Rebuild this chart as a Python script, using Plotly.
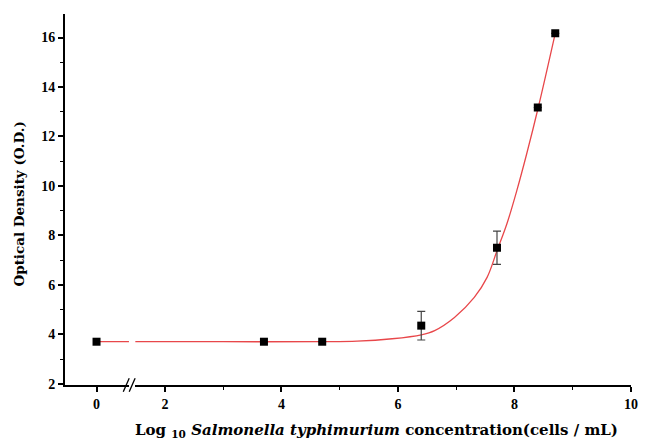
import plotly.graph_objects as go

# measured points (log10 concentration, optical density)
x_pts = [0, 3.7, 4.7, 6.4, 7.7, 8.4, 8.7]
y_pts = [3.7, 3.7, 3.7, 4.35, 7.5, 13.17, 16.17]
y_err = [None, None, None, 0.58, 0.67, None, None]

# fitted curve
x_fit = [1.49, 3.0, 4.7, 5.3, 5.9, 6.4, 6.63, 6.97, 7.31, 7.53, 7.70, 7.87, 8.04, 8.21, 8.41, 8.7]
y_fit = [3.7, 3.7, 3.7, 3.72, 3.82, 3.98, 4.15, 4.68, 5.49, 6.30, 7.38, 8.47, 9.81, 11.30, 13.19, 16.17]
x_fit_left = [0, 0.54]
y_fit_left = [3.7, 3.7]

x_ticks_left = [0]
x_ticks_right = [2, 4, 6, 8, 10]
y_ticks = [2, 4, 6, 8, 10, 12, 14, 16]

RED = "#e8474a"
FONT = "Liberation Serif"
TITLE_FONT = "DejaVu Serif"


def bold(vals):
    return ["<b>%g</b>" % v for v in vals]


fig = go.Figure()

# left (broken) panel
fig.add_trace(go.Scatter(x=x_fit_left, y=y_fit_left, mode="lines",
                         line=dict(color=RED, width=1.3), xaxis="x", yaxis="y",
                         showlegend=False, hoverinfo="skip"))
left_x = [v for v in x_pts if v < 1]
left_y = [y_pts[i] for i, v in enumerate(x_pts) if v < 1]
fig.add_trace(go.Scatter(x=left_x, y=left_y, mode="markers",
                         marker=dict(symbol="square", size=8, color="black"),
                         xaxis="x", yaxis="y", showlegend=False))

# right panel
fig.add_trace(go.Scatter(x=x_fit, y=y_fit, mode="lines", line_shape="spline",
                         line=dict(color=RED, width=1.3, smoothing=1.0),
                         xaxis="x2", yaxis="y",
                         showlegend=False, hoverinfo="skip"))
idx = [i for i, v in enumerate(x_pts) if v >= 1]
fig.add_trace(go.Scatter(x=[x_pts[i] for i in idx], y=[y_pts[i] for i in idx],
                         mode="markers",
                         marker=dict(symbol="square", size=8, color="black"),
                         error_y=dict(type="data", array=[y_err[i] for i in idx],
                                      color="#444444", thickness=1.2, width=4),
                         xaxis="x2", yaxis="y", showlegend=False))

tickfont = dict(family=FONT, size=14, color="black")
axis_common = dict(showgrid=False, zeroline=False, showline=True, linecolor="black",
                   linewidth=2, ticks="outside", ticklen=5, tickwidth=1.5,
                   tickcolor="black", tickfont=tickfont)

fig.update_layout(
    width=647, height=442,
    margin=dict(l=65, r=9, t=14, b=57),
    plot_bgcolor="white", paper_bgcolor="white",
    xaxis=dict(domain=[0, 0.113], range=[-0.525, 0.54], tickvals=x_ticks_left,
               ticktext=bold(x_ticks_left), **axis_common),
    xaxis2=dict(domain=[0.124, 1], range=[1.49, 10.0], tickvals=x_ticks_right,
                ticktext=bold(x_ticks_right),
                minor=dict(dtick=1, ticks="outside", ticklen=3, tickwidth=1.2,
                           tickcolor="black"),
                anchor="y", **axis_common),
    yaxis=dict(range=[1.95, 16.95], tickvals=y_ticks, ticktext=bold(y_ticks),
               minor=dict(dtick=1, tick0=1, ticks="outside", ticklen=3, tickwidth=1.2,
                          tickcolor="black"),
               **axis_common),
)

# axis break marks
for dx in [0, 6]:
    fig.add_shape(type="line", xref="paper", yref="paper",
                  x0=(124 - 65 + dx) / 573, y0=-0.018,
                  x1=(130 - 65 + dx) / 573, y1=0.018,
                  line=dict(color="black", width=1.3))

fig.add_annotation(text="<b>Optical Density (O.D.)</b>", xref="paper", yref="paper",
                   x=(18 - 65) / 573, y=1 - (204 - 14) / 371, textangle=-90,
                   showarrow=False, xanchor="center", yanchor="middle",
                   font=dict(family=TITLE_FONT, size=13.5, color="black"))
fig.add_annotation(
    text="<b>Log <sub>10</sub> <i>Salmonella typhimurium</i> concentration(cells / mL)</b>",
    xref="paper", yref="paper", x=(380 - 65) / 573, y=-(430 - 385) / 371,
    showarrow=False, xanchor="center", yanchor="middle",
    font=dict(family=TITLE_FONT, size=15, color="black"))

fig.write_html("out.html", config={"displayModeBar": False},
               post_script="document.body.style.margin='0';document.body.style.overflow='hidden';")
